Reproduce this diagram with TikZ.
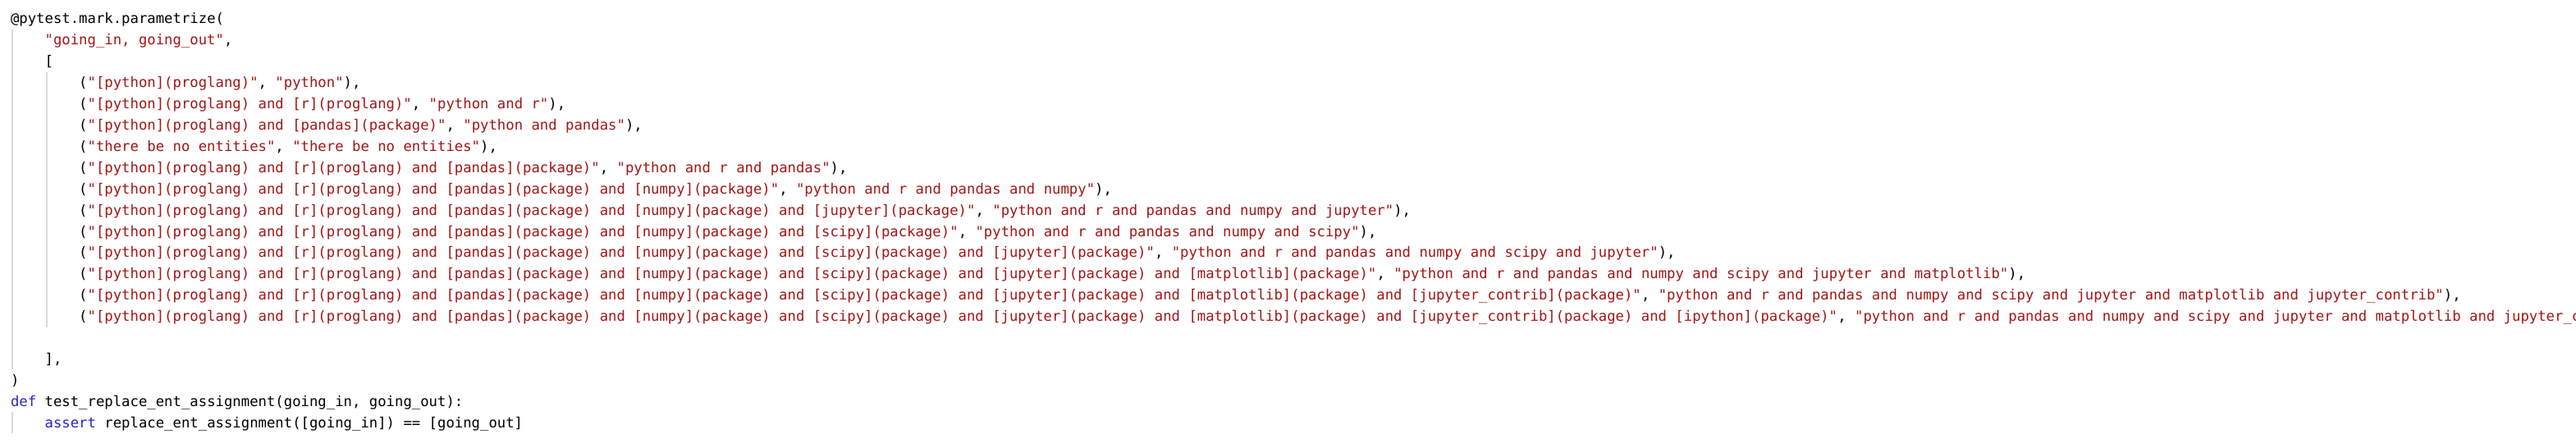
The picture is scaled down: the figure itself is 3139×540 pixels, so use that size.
\documentclass[tikz,border=0pt]{standalone}
\usepackage{fontspec}
\newfontfamily\codefont{DejaVu Sans Mono}
\definecolor{strc}{HTML}{A31515}
\definecolor{kwc}{HTML}{2626C8}
\definecolor{guidec}{HTML}{D9D9D9}
\newcommand\Sx[1]{\textcolor{strc}{#1}}
\newcommand\Kw[1]{\textcolor{kwc}{#1}}
\tikzset{
  codeline/.style={anchor=base west, inner sep=0pt, outer sep=0pt,
    font=\codefont\fontsize{17.28pt}{25.9pt}\selectfont\frenchspacing, text=black},
  guide/.style={draw=guidec, line width=1.2pt}
}
\begin{document}
\begin{tikzpicture}[x=1pt,y=1pt]
\useasboundingbox[fill=white] (0,0) rectangle (3139,-540);
\clip (0,0) rectangle (3139,-540);
% indent guides
\coordinate (ga1) at (15,-36);   \coordinate (ga2) at (15,-450);
\coordinate (gb1) at (57,-88);   \coordinate (gb2) at (57,-399);
\coordinate (gc1) at (15,-502);  \coordinate (gc2) at (15,-528);
\draw[guide] (ga1) -- (ga2);
\draw[guide] (gb1) -- (gb2);
\draw[guide] (gc1) -- (gc2);
% code lines
\node[codeline] (l1) at (13,-29) {@pytest.mark.parametrize(};
\node[codeline] (l2) at (54.6,-54.9) {\Sx{"going\_in, going\_out"},};
\node[codeline] (l3) at (54.6,-80.8) {[};
\node[codeline] (l4) at (96.2,-106.7) {(\Sx{"[python](proglang)"}, \Sx{"python"}),};
\node[codeline] (l5) at (96.2,-132.6) {(\Sx{"[python](proglang) and [r](proglang)"}, \Sx{"python and r"}),};
\node[codeline] (l6) at (96.2,-158.5) {(\Sx{"[python](proglang) and [pandas](package)"}, \Sx{"python and pandas"}),};
\node[codeline] (l7) at (96.2,-184.4) {(\Sx{"there be no entities"}, \Sx{"there be no entities"}),};
\node[codeline] (l8) at (96.2,-210.3) {(\Sx{"[python](proglang) and [r](proglang) and [pandas](package)"}, \Sx{"python and r and pandas"}),};
\node[codeline] (l9) at (96.2,-236.2) {(\Sx{"[python](proglang) and [r](proglang) and [pandas](package) and [numpy](package)"}, \Sx{"python and r and pandas and numpy"}),};
\node[codeline] (l10) at (96.2,-262.1) {(\Sx{"[python](proglang) and [r](proglang) and [pandas](package) and [numpy](package) and [jupyter](package)"}, \Sx{"python and r and pandas and numpy and jupyter"}),};
\node[codeline] (l11) at (96.2,-288.0) {(\Sx{"[python](proglang) and [r](proglang) and [pandas](package) and [numpy](package) and [scipy](package)"}, \Sx{"python and r and pandas and numpy and scipy"}),};
\node[codeline] (l12) at (96.2,-313.9) {(\Sx{"[python](proglang) and [r](proglang) and [pandas](package) and [numpy](package) and [scipy](package) and [jupyter](package)"}, \Sx{"python and r and pandas and numpy and scipy and jupyter"}),};
\node[codeline] (l13) at (96.2,-339.8) {(\Sx{"[python](proglang) and [r](proglang) and [pandas](package) and [numpy](package) and [scipy](package) and [jupyter](package) and [matplotlib](package)"}, \Sx{"python and r and pandas and numpy and scipy and jupyter and matplotlib"}),};
\node[codeline] (l14) at (96.2,-365.7) {(\Sx{"[python](proglang) and [r](proglang) and [pandas](package) and [numpy](package) and [scipy](package) and [jupyter](package) and [matplotlib](package) and [jupyter\_contrib](package)"}, \Sx{"python and r and pandas and numpy and scipy and jupyter and matplotlib and jupyter\_contrib"}),};
\node[codeline] (l15) at (96.2,-391.6) {(\Sx{"[python](proglang) and [r](proglang) and [pandas](package) and [numpy](package) and [scipy](package) and [jupyter](package) and [matplotlib](package) and [jupyter\_contrib](package) and [ipython](package)"}, \Sx{"python and r and pandas and numpy and scipy and jupyter and matplotlib and jupyter\_c}};
\node[codeline] (l17) at (54.6,-443.4) {],};
\node[codeline] (l18) at (13,-469.3) {)};
\node[codeline] (l19) at (13,-495.2) {\Kw{def} test\_replace\_ent\_assignment(going\_in, going\_out):};
\node[codeline] (l20) at (54.6,-521.1) {\Kw{assert} replace\_ent\_assignment([going\_in]) == [going\_out]};
\end{tikzpicture}
\end{document}
